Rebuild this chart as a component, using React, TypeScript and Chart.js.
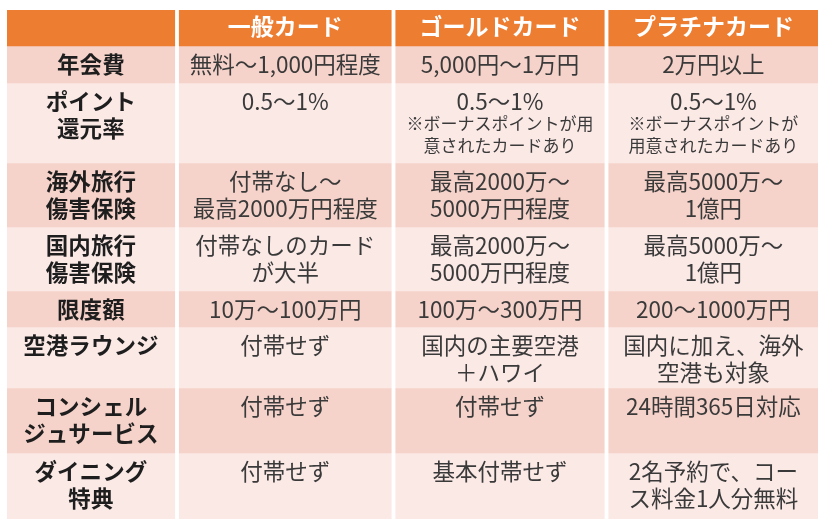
import React, { useEffect, useRef } from 'react';
import { Chart, registerables } from 'chart.js';

Chart.register(...registerables);

// ---- Data ----
const columnHeaders = ['', '一般カード', 'ゴールドカード', 'プラチナカード'];
const rowLabels = [
  '年会費',
  'ポイント\n還元率',
  '海外旅行\n傷害保険',
  '国内旅行\n傷害保険',
  '限度額',
  '空港ラウンジ',
  'コンシェル\nジュサービス',
  'ダイニング\n特典',
];
const generalCard = [
  '無料～1,000円程度',
  '0.5～1%',
  '付帯なし～\n最高2000万円程度',
  '付帯なしのカード\nが大半',
  '10万～100万円',
  '付帯せず',
  '付帯せず',
  '付帯せず',
];
const goldCard = [
  '5,000円～1万円',
  '0.5～1%',
  '最高2000万～\n5000万円程度',
  '最高2000万～\n5000万円程度',
  '100万～300万円',
  '国内の主要空港\n＋ハワイ',
  '付帯せず',
  '基本付帯せず',
];
const platinumCard = [
  '2万円以上',
  '0.5～1%',
  '最高5000万～\n1億円',
  '最高5000万～\n1億円',
  '200～1000万円',
  '国内に加え、海外\n空港も対象',
  '24時間365日対応',
  '2名予約で、コー\nス料金1人分無料',
];
const generalNotes = ['', '', '', '', '', '', '', ''];
const goldNotes = ['', '※ボーナスポイントが用\n意されたカードあり', '', '', '', '', '', ''];
const platinumNotes = ['', '※ボーナスポイントが\n用意されたカードあり', '', '', '', '', '', ''];

// ---- Layout / style ----
const colEdges = [0, 170, 386.5, 599.5, 811];
const colGap = 4.5;
const rowHeights = [36, 37, 80, 64, 64, 36, 61, 65, 66];
const headerColor = '#ED7D31';
const darkRow = '#F6D3CA';
const lightRow = '#FBE9E6';
const FONT = '"Noto Sans CJK JP", "Noto Sans", sans-serif';

const totalWidth = colEdges[colEdges.length - 1];
const totalHeight = rowHeights.reduce((a, b) => a + b, 0);
const rowTops: number[] = [];
{
  let acc = 0;
  for (const h of rowHeights) {
    rowTops.push(acc);
    acc += h;
  }
}
const cellStart = (c: number) => (c === 0 ? colEdges[0] : colEdges[c] + colGap / 2);
const cellEnd = (c: number) => (c === colEdges.length - 2 ? colEdges[c + 1] : colEdges[c + 1] - colGap / 2);

function rowColor(r: number) {
  if (r === 0) return headerColor;
  return r % 2 === 1 ? darkRow : lightRow;
}

function cellText(r: number, c: number): string {
  if (r === 0) return columnHeaders[c];
  const i = r - 1;
  if (c === 0) return rowLabels[i];
  if (c === 1) return generalCard[i];
  if (c === 2) return goldCard[i];
  return platinumCard[i];
}
function cellNote(r: number, c: number): string {
  if (r === 0 || c === 0) return '';
  const i = r - 1;
  if (c === 1) return generalNotes[i];
  if (c === 2) return goldNotes[i];
  return platinumNotes[i];
}

const tableTextPlugin = {
  id: 'tableText',
  afterDatasetsDraw(chart: any) {
    const { ctx, scales } = chart;
    const x = scales.x;
    const y = scales.y;
    ctx.save();
    ctx.textAlign = 'center';
    ctx.textBaseline = 'middle';
    for (let r = 0; r < rowHeights.length; r++) {
      const top = y.getPixelForValue(rowTops[r]);
      for (let c = 0; c < colEdges.length - 1; c++) {
        const cx = x.getPixelForValue((cellStart(c) + cellEnd(c)) / 2);
        const text = cellText(r, c);
        if (r === 0) {
          ctx.font = `bold 23px ${FONT}`;
          ctx.fillStyle = '#FFFFFF';
        } else if (c === 0) {
          ctx.font = `bold 22.5px ${FONT}`;
          ctx.fillStyle = '#1E1E1E';
        } else {
          ctx.font = `22.5px ${FONT}`;
          ctx.fillStyle = '#3A3A3A';
        }
        const lines = text ? text.split('\n') : [];
        const first = r === 0 ? 16 : 18;
        lines.forEach((ln, k) => {
          ctx.fillText(ln, cx, top + first + k * 27);
        });
        const note = cellNote(r, c);
        if (note) {
          ctx.font = `17px ${FONT}`;
          ctx.fillStyle = '#3A3A3A';
          note.split('\n').forEach((ln, k) => {
            ctx.fillText(ln, cx, top + 41 + k * 22);
          });
        }
      }
    }
    ctx.restore();
  },
};

export default function App() {
  const canvasRef = useRef<HTMLCanvasElement | null>(null);

  useEffect(() => {
    if (!canvasRef.current) return;
    const datasets = rowHeights.map((h, r) => ({
      label: r === 0 ? 'header' : rowLabels[r - 1],
      data: [0, 1, 2, 3].map((c) => ({ x: [cellStart(c), cellEnd(c)], y: rowTops[r] + h / 2 })),
      backgroundColor: rowColor(r),
      borderWidth: 0,
      borderSkipped: false,
      barThickness: h,
      grouped: false,
    }));
    const chart = new Chart(canvasRef.current, {
      type: 'bar',
      data: { datasets: datasets as any },
      options: {
        indexAxis: 'y',
        animation: false,
        responsive: false,
        maintainAspectRatio: false,
        layout: { padding: { left: 7, top: 10, right: 10, bottom: 7 } },
        scales: {
          x: { type: 'linear', min: 0, max: totalWidth, display: false, offset: false },
          y: { type: 'linear', min: 0, max: totalHeight, reverse: true, display: false, offset: false },
        },
        plugins: {
          legend: { display: false },
          tooltip: { enabled: false },
        },
      },
      plugins: [tableTextPlugin],
    });
    return () => chart.destroy();
  }, []);

  return (
    <div style={{ position: 'absolute', left: 0, top: 0, width: 828, height: 526, background: '#fff' }}>
      <canvas ref={canvasRef} width={828} height={526} style={{ display: 'block' }} />
    </div>
  );
}
